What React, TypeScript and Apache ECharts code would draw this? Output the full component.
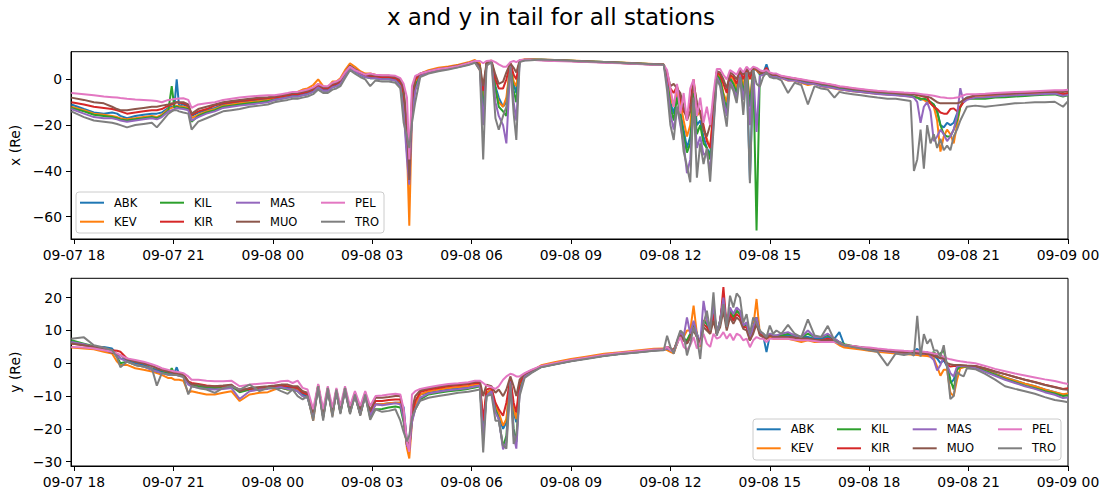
import React, { useEffect, useRef } from "react";
import * as echarts from "echarts";

const FONT = "DejaVu Sans";
const STATIONS = ["ABK", "KEV", "KIL", "KIR", "MAS", "MUO", "PEL", "TRO"];
const COLORS = ["#1f77b4", "#ff7f0e", "#2ca02c", "#d62728", "#9467bd", "#8c564b", "#e377c2", "#7f7f7f"];

const X_TICK_HOURS = [0, 3, 6, 9, 12, 15, 18, 21, 24, 27, 30];
const X_TICK_LABELS = ["09-07 18", "09-07 21", "09-08 00", "09-08 03", "09-08 06", "09-08 09", "09-08 12", "09-08 15", "09-08 18", "09-08 21", "09-09 00"];
const TOP_Y_TICKS = [-60, -40, -20, 0];
const BOTTOM_Y_TICKS = [-30, -20, -10, 0, 10, 20];

// hours after 09-07 18:00
const T = [
  -0.08, 0.3, 0.6, 0.9, 1.15, 1.3, 1.4, 1.6, 1.85, 2.1, 2.35, 2.5, 2.65, 2.85, 2.95, 3.03, 3.1, 3.17, 3.3, 3.45, 3.55, 3.75, 4.0, 4.25, 4.5, 4.75, 5.0, 5.3, 5.6, 5.85,
  6.05, 6.25, 6.45, 6.6, 6.75, 6.9, 7.05, 7.22, 7.37, 7.52, 7.66, 7.8, 7.92, 8.04, 8.18, 8.33, 8.48, 8.64, 8.79, 8.94, 9.1, 9.3, 9.5, 9.7,
  9.85, 9.95, 10.05, 10.12, 10.2, 10.3, 10.45,
  10.7, 11.0, 11.3, 11.6, 11.9, 12.1,
  12.25, 12.35, 12.45, 12.6, 12.72, 12.82, 12.95, 13.05, 13.17, 13.27, 13.35, 13.45, 13.6, 13.8,
  14.1, 14.5, 15.0, 15.5, 16.0, 16.5, 17.0, 17.5, 17.8,
  17.9, 18.0, 18.1, 18.2, 18.3, 18.4, 18.5, 18.6, 18.7, 18.8, 18.9, 19.0, 19.1, 19.2, 19.3, 19.4, 19.5, 19.6, 19.7, 19.8, 19.9, 20.0, 20.1, 20.2, 20.3, 20.4, 20.5, 20.6, 20.7, 20.8, 20.9, 21.0, 21.1, 21.2,
  21.35, 21.55, 21.75, 21.95, 22.15, 22.35, 22.55, 22.75, 22.95, 23.1, 23.25, 23.5, 23.75, 24.0, 24.25, 24.55, 24.8, 25.05, 25.25,
  25.35, 25.45, 25.55, 25.65, 25.75, 25.85, 25.95, 26.05, 26.15, 26.25, 26.35, 26.45, 26.55, 26.65, 26.75, 26.85, 26.95,
  27.2, 27.5, 27.8, 28.1, 28.4, 28.7, 29.0, 29.3, 29.6, 29.85, 30.0,
];

// ---------- x (Re) ----------
const X_ABK = [
  -11, -13, -14.5, -15, -14.5, -15, -16, -17, -16, -15.5, -15, -15, -14.5, -12.5, -12, -11.8, 0, -11.5, -11, -12, -16, -14.5, -13.5, -12.5, -11, -10.5, -10, -9.5, -9, -8.8,
  -8.5, -8, -7.5, -7, -7, -6.5, -6, -5, -3, -4.5, -4.5, -3, -2.5, -1.5, 2, 5, 3.5, 2, 1, 1, 0.5, 0.5, 0.5, 0,
  -2, -10, -30, -45, -12, -2, 2,
  3, 4, 4.8, 5.6, 6.6, 7.6,
  6, -10, 7, 8, -3, -8, -12, -10, 6.5, -2, -6, 8, 8.4, 8.5,
  8.5, 8.3, 8.1, 7.8, 7.5, 7.2, 6.9, 6.6, 6.4,
  1, -10, -15, -6, -14, -22, -30, -25, -5, -20, -18, -25, -30, -33, -16, 2, 0, -10, -12, 1, -2, -6, 3, -6, 4, -44, 4.5, 4, 2, 2.5, 6.5, 2, 1.5, 1.5,
  1, 0.2, 0, -1, -1.5, -1.5, -2.5, -3, -3.5, -4, -4.2, -4.8, -5.2, -5.6, -6, -6.3, -6.6, -6.9, -7.2,
  -7.5, -8, -9, -8.5, -9, -10, -11, -14, -20, -21, -19, -20, -19, -15, -12, -9, -8,
  -7.8, -7.5, -7.2, -7, -6.8, -6.6, -6.4, -6.2, -6, -7, -6.5,
];
const X_KEV = [
  -12, -13.5, -15, -15.5, -16, -16.5, -17, -17.5, -17, -16.5, -16, -16.5, -15.5, -13, -12.5, -12, -11.5, -11.8, -12, -12.5, -17, -15.5, -14, -13, -11.5, -11, -10.5, -10, -9.5, -9,
  -8, -7.5, -7, -6, -5.5, -4.5, -4, -2.5, 0, -3, -3.5, -1, -1, 0.5, 4, 7, 5.5, 3.5, 2.5, 2.5, 2, 1.5, 1.5, 1,
  -1, -8, -30, -64, -15, -1, 2.5,
  4, 5, 5.6, 6.4, 7.4, 8.4,
  7, -12, 7.5, 8.2, -5, -10, -12, -8, 7, -1, -3, 8.3, 8.6, 8.6,
  8.6, 8.4, 8.2, 7.9, 7.6, 7.3, 7.0, 6.7, 6.5,
  2, -8, -12, -5, -10, -18, -25, -20, -3, -16, -14, -22, -26, -30, -14, 3, 1, -6, -10, 2, 0, -4, 4, -3, 5, -10, 5, 4, 2.5, 2.5, 4, 2, 1, 1,
  0.5, -0.5, -0.5, -1.5, -2.5, -2, -3, -3.5, -4, -4.5, -4.7, -5.2, -5.6, -6, -6.3, -6.6, -6.9, -7.2, -7.5,
  -7.8, -8, -8.5, -9, -10, -10.5, -12, -18, -31.6, -25, -22, -24, -28, -20, -12, -9, -8.5,
  -7.5, -7.2, -7, -6.8, -6.6, -6.4, -6.2, -6, -5.8, -6.8, -6.2,
];
const X_KIL = [
  -12.5, -14, -15.5, -16, -16.5, -17, -17.5, -18, -17.5, -17, -16.5, -17, -16, -13.5, -3, -12.5, -12, -12.3, -12.5, -13, -18.5, -16, -14.5, -13.5, -12, -11.5, -11, -10.5, -10, -9.5,
  -9, -8.5, -8, -7.5, -7.5, -7, -6.5, -5.5, -3.5, -5, -5, -3.5, -3, -2, 1.5, 5, 3.5, 2, 1, 0.5, 0.5, 0, 0, -0.5,
  -2.5, -11, -32, -42, -14, -3, 1.5,
  3, 4, 4.8, 5.6, 6.6, 7.6,
  6, -14, 7, 8, -4, -12, -14, -16, 6.5, -5, -10, 8, 8.4, 8.5,
  8.5, 8.3, 8.1, 7.8, 7.5, 7.2, 6.9, 6.6, 6.4,
  1, -12, -18, -8, -16, -25, -32, -28, -6, -24, -20, -28, -30, -35, -18, 2, 0, -7, -14, 0, -2, -6, 3, -6, 4, -12, 4.5, -66, 2, 2.5, 4, 2, 1.5, 1.5,
  0.8, 0, -0.3, -1.2, -1.8, -1.8, -2.8, -3.2, -3.7, -4.2, -4.5, -5, -5.4, -5.8, -6.2, -6.5, -6.8, -7.1, -7.4,
  -7.7, -8, -8.5, -8.5, -9, -10, -11, -14, -20, -24, -25, -25, -22, -18, -12, -9.5, -8.5,
  -8.5, -8.5, -8, -7.8, -7.5, -7.3, -7, -6.8, -6.6, -7.5, -7,
];
const X_KIR = [
  -10, -11, -12, -12.5, -13, -13.5, -14, -15, -14.5, -14, -13.5, -13.5, -13, -11.5, -11, -10.5, -10, -10.2, -10.5, -11.5, -15.5, -14, -13, -11.5, -10.5, -10, -9.5, -9, -8.5, -8.2,
  -8, -7.5, -7, -6.5, -6.5, -6, -5.5, -4.5, -2.5, -4, -4, -2.5, -2, -1, 2.5, 5.5, 4, 2.5, 1.5, 1.5, 1, 1, 1, 0.5,
  -1, -6, -25, -42, -10, 0, 2,
  3.2, 4.2, 5, 5.8, 6.8, 7.8,
  4, -5, 6, 8, 0, -4, -4, 0, 7, 2, 0, 8, 8.5, 8.5,
  8.4, 8.2, 8.0, 7.7, 7.4, 7.1, 6.8, 6.5, 6.3,
  0, -4, -6, -3, -8, -14, -16, -10, 0, -12, -14, -20, -27, -30, -14, 3, 2, -2, -6, 2, 1, -2, 4, 0, 5, 0, 5, 4.5, 3, 3, 5, 2.5, 2, 2,
  1.3, 0.8, 0.3, -0.2, -0.7, -1.2, -1.7, -2.2, -2.7, -3.2, -3.5, -4, -4.5, -4.9, -5.3, -5.6, -5.9, -6.2, -6.4,
  -6.5, -7, -7.2, -7.5, -8, -10.5, -12, -13, -14.5, -15, -15, -13, -12.7, -14, -12, -10, -8.5,
  -7, -6.8, -6.5, -6.4, -6.2, -6, -5.8, -5.7, -5.6, -6.5, -6,
];
const X_MAS = [
  -13, -15, -16.5, -17, -17, -17.5, -18, -18.5, -18, -17.5, -17, -17.5, -16.5, -14, -13.5, -13, -12.5, -12.8, -13, -13.5, -18, -16.5, -15, -14, -12.5, -12, -11.5, -11, -10.5, -10,
  -9, -8.5, -8, -7.5, -7.5, -7, -6.5, -5.5, -3.5, -5, -5, -3.5, -3, -2, 1.5, 5, 3.5, 2, 1, 0.5, 0.5, 0, 0, -0.5,
  -3, -14, -35, -46, -18, -5, 1.5,
  2.8, 3.8, 4.6, 5.4, 6.4, 7.4,
  5, -20, 6.5, 7.8, -10, -16, -20, -28, 6, -10, -18, 7.8, 8.3, 8.4,
  8.4, 8.2, 8.0, 7.7, 7.4, 7.1, 6.8, 6.5, 6.3,
  -2, -15, -22, -12, -20, -28, -41, -35, -10, -30, -25, -33, -32, -40, -20, 1, -2, -9, -16, -1, -4, -8, 2, -9, 3, -20, 4, -23, 1.5, 2, 4, 1.5, 1, 1,
  0.6, -0.5, -0.5, -1.3, -2, -2, -3, -3.4, -3.9, -4.4, -4.7, -5.2, -5.6, -6, -6.4, -6.7, -7, -7.3, -7.6,
  -8, -10, -19, -12, -10, -14, -27, -25, -22, -24, -27, -25, -22, -16, -3.9, -10, -9,
  -8, -7.8, -7.5, -7.2, -7, -6.8, -6.6, -6.4, -6.2, -7.2, -6.8,
];
const X_MUO = [
  -8, -9, -10, -10.5, -12, -13, -13.5, -13.5, -13, -12.5, -12, -12, -11.5, -11, -10.5, -10.3, -10, -10, -10, -11, -15, -13, -12, -11, -10, -9.5, -9, -8.5, -8, -7.8,
  -7.5, -7, -6.5, -6, -6, -5.5, -5, -4, -2, -3.5, -3.5, -2, -1.5, -0.5, 3, 6, 4.5, 3, 2, 2, 1.5, 1.5, 1.5, 1,
  0, -4, -20, -44, -8, 1, 2.5,
  3.5, 4.5, 5.2, 6, 7, 8,
  6, -3, 7, 8, 2, -2, -1, 3, 7, 5, 3, 8.2, 8.5, 8.5,
  8.4, 8.2, 8.0, 7.7, 7.4, 7.1, 6.8, 6.5, 6.3,
  3, -3, -2, -4, -6, -12, -18, -14, -2, -10, -15, -22, -25, -20, -10, 3.5, 3, 0, -4, 3, 2, 0, 4, 2, 5, 2, 5, 4.5, 3, 3, 4, 2.5, 2, 2,
  1.2, 0.7, 0.2, -0.3, -0.8, -1.3, -1.8, -2.3, -2.8, -3.3, -3.6, -4.1, -4.6, -5, -5.4, -5.7, -6, -6.3, -6.5,
  -6.5, -6.8, -7, -7.3, -7.6, -8, -9, -10, -10.5, -10.5, -10.5, -10.5, -10.5, -10.5, -10, -9, -8,
  -7, -6.8, -6.5, -6.3, -6.1, -5.9, -5.7, -5.5, -5.3, -5.5, -5.2,
];
const X_PEL = [
  -6, -6.5, -7, -7.5, -7.8, -8, -8.2, -8.5, -8.8, -9, -9.3, -9.5, -10, -9, -8.8, -8.6, -8.5, -8.4, -8.3, -9, -12.5, -11, -10.5, -10, -9, -8.5, -8, -7.5, -7.2, -7,
  -7, -6.5, -6, -5.5, -5.5, -5, -4.5, -3.5, -2, -3, -3, -1.5, -1, 0, 3, 5.5, 4, 3, 2, 2.5, 2, 1.8, 1.8, 1.5,
  0.5, -2, -8, -35, -3, 1.5, 2.5,
  3.5, 4.5, 5, 5.8, 7, 8,
  8, 7, 8, 8.2, 7.5, 6.5, 5.5, 5.5, 7.5, 8, 7.5, 8.4, 8.5, 8.5,
  8.2, 8.0, 7.8, 7.5, 7.2, 7.0, 6.7, 6.4, 6.2,
  4, -4, -12, -2, -15, -6, -18, -4, 0, -16, -8, -19, -12, -20, -6, 4.5, 4.5, 2, 0, 4, 3, 2, 5, 3, 5.5, 4, 5.5, 5, 4, 3.5, 4, 3, 2.5, 2.5,
  1.5, 1, 0.5, 0, -0.5, -1, -1.5, -2, -2.5, -3, -3.3, -3.8, -4.2, -4.7, -5, -5.3, -5.5, -5.8, -6,
  -6, -6.2, -6.4, -6.6, -6.8, -7, -7.2, -7.5, -7.8, -8, -8.2, -8.3, -8.2, -8, -7.5, -7, -6.5,
  -6.5, -6.3, -6, -5.8, -5.6, -5.4, -5.2, -5, -4.8, -4.8, -4.6,
];
const X_TRO = [
  -14, -16.5, -18, -18.5, -19, -19.5, -20, -21, -20, -19.5, -19, -21, -18.5, -15, -14, -13.5, -13.5, -14, -14.5, -15, -22, -18.5, -17, -15.5, -14, -13.5, -13, -12, -11.5, -11,
  -10, -9.5, -9, -8.5, -8.5, -8, -7.5, -6.5, -4.5, -6, -6, -4.5, -4, -3, 0.5, 4, 2.5, 1, 0, -3, -0.5, -1, -1, -1.5,
  -4, -19, -25, -30, -19, -10, 1,
  2.5, 3.5, 4.3, 5.2, 6.2, 7.2,
  4, -35, 6, 7.5, -17, -22, -16, -12, 5.5, -15, -26.5, 7.5, 8.2, 8.3,
  8.6, 8.4, 8.1, 7.8, 7.5, 7.2, 6.9, 6.6, 6.4,
  -5, -20, -26.5, -12, -18, -31.6, -38, -45, -8, -43, -28, -37, -30, -44.7, -22, 0, -3, -12, -20.7, -2, -5, -10.4, 1, -15.6, 3, -45.4, 4, -2, -3.2, 1, 3, 1, 0.5, 0.5,
  -0.5, -6, -1.5, -2.5, -11, -3, -4, -4.5, -8, -5.5, -6, -6.5, -7, -7.5, -8, -8.5, -8.5, -9, -9.5,
  -40, -35, -22, -39, -20, -28, -24, -30, -26, -31, -29, -31, -25, -22, -18, -15, -12,
  -11.5, -12, -11.5, -11, -10.5, -10.3, -10, -10, -9.8, -12, -9.5,
];

// ---------- y (Re) ----------
const Y_ABK = [
  6.5, 5.5, 5, 5, 4.5, 2.5, 1.5, 1, 0, -0.5, -1.5, -2, -2.5, -3, -3, -3, -1.2, -3.2, -3.8, -6, -6.5, -7, -7.5, -7.5, -7.3, -7, -8.5, -8, -7.8, -7.5,
  -7.2, -7, -7.5, -7.5, -8, -9.5, -10, -16, -7, -16, -8, -15, -8.5, -14.5, -8, -14.5, -9.5, -15, -9.5, -15.5, -12.5, -12.5, -12.2, -12,
  -12, -13.4, -24, -26, -17, -13, -9.5,
  -9, -8.5, -8, -7.6, -7.2, -6.8,
  -6.5, -20, -9, -8, -13, -16, -20, -18, -5, -15, -18, -7, -3.8, -2.6,
  -1, -0.2, 0.8, 1.6, 2.4, 3.0, 3.5, 4.0, 4.2,
  4.5, 4, 3.5, 6, 9, 7.5, 6, 9, 12, 8.5, 6, 13, 12, 9.5, 17, 9, 13, 20, 11, 16, 14, 16, 15, 11, 12, 7, 11, 14, 9, 8.5, 3.4, 8.5, 8, 8,
  8.5, 8.5, 8, 8, 8, 7.5, 7.5, 8, 7.5, 9.5, 5.5, 5, 4.6, 4.3, 4, 3.6, 3.4, 3.2, 3.1,
  3.5, 4.4, 3, 2.9, 2.8, 2.6, 2.2, 1.5, 0, 1, -1, -6, -5, -1.5, -1, -1, -1,
  -1, -2, -3.2, -4.3, -5.2, -6.2, -7, -8, -8.8, -9.6, -9.3,
];
const Y_KEV = [
  4.8, 4.5, 4.3, 3.5, 3, 0.5, -0.5, -0.5, -1.5, -2, -2.5, -3, -3.5, -4.5, -4.5, -5, -5, -5, -5.3, -9, -8.5, -9, -9.5, -9.5, -9, -8.5, -11.5, -9.5, -9, -8.8,
  -8, -7.5, -8, -7.8, -8.3, -8.5, -9.5, -17.5, -6.5, -16.5, -7.5, -16, -8, -15, -7.5, -15, -9, -15.5, -9, -16, -12.5, -12.5, -12.2, -12,
  -12, -17, -26, -29, -18, -13, -9.5,
  -8.5, -8, -7.5, -7.2, -6.9, -6.5,
  -6.3, -19, -9, -8, -13, -15, -19, -17, -5, -14, -17, -6.5, -3.6, -2.5,
  -0.6, 0.3, 1.3, 2.1, 2.9, 3.4, 3.9, 4.4, 4.5,
  4, 3.5, 3, 6, 9, 8, 10, 10, 17.6, 9, 5, 13, 13, 10, 17, 9, 13, 19, 11, 16, 14, 16, 15, 11, 12, 7, 11, 19.6, 9, 8.5, 7.5, 8, 7.5, 7.5,
  7.5, 7.5, 7, 6.5, 7, 6.5, 6.5, 7, 6.5, 5.5, 4.8, 4.5, 4.2, 3.8, 3.5, 3.2, 3, 2.8, 2.7,
  2.6, 2.5, 2.4, 2.3, 2.2, 2, 1.5, -1, -3.8, -2, -2, -9, -10, -5, -1.5, -1.2, -1,
  -1.2, -2.2, -3.3, -4.3, -5.3, -6.2, -7, -8, -8.8, -9.4, -9.2,
];
const Y_KIL = [
  7, 6, 5.2, 4.5, 4, 2, 0, 0.5, -0.5, -1, -1.8, -2.5, -2.8, -3.2, -1.5, -3.3, -3.3, -3.5, -3.8, -6, -6.5, -7, -7.3, -7.5, -7.3, -7, -8.8, -8, -7.8, -7.5,
  -7.5, -7.5, -8, -8, -8.5, -10, -10.5, -16.5, -7.5, -16.5, -8.5, -15.5, -9, -15, -8.5, -15, -10, -15.5, -10, -16.5, -14, -13.9, -13.5, -13.2,
  -13.5, -18, -25, -26, -17, -14, -11,
  -9.5, -9, -8.5, -8.2, -7.8, -7.4,
  -7, -22, -10, -8.5, -14, -17, -25.5, -22, -5.5, -20, -24, -8, -4, -2.8,
  -1.1, -0.3, 0.7, 1.5, 2.3, 2.9, 3.4, 3.9, 4.1,
  4.5, 4, 3.5, 6, 9, 7.5, 7, 9, 12, 9, 6, 13, 12, 9.5, 16, 9, 13, 19, 11, 16, 14, 16, 15, 11, 12, 7, 11, 14, 9.5, 9, 8, 9, 8.5, 8.5,
  8.5, 9, 8.5, 8, 9, 8, 8, 8.5, 7.5, 6.5, 5.8, 5.3, 4.9, 4.5, 4.2, 3.8, 3.6, 3.4, 3.3,
  3.2, 3.1, 3, 3, 3, 3, 3.4, 2.5, 3, 4, -0.5, -5, -8, -2, -1, -1, -1,
  -1.2, -2.3, -3.5, -4.8, -5.8, -6.8, -7.6, -8.5, -9.2, -10, -9.8,
];
const Y_KIR = [
  6, 5.5, 5, 4.5, 4, 3.8, 3.5, 1.5, 0.5, 0, -0.8, -1.5, -2, -2.5, -2.7, -2.9, -3, -3.2, -3.3, -5.5, -6, -6.3, -6.8, -7, -7, -6.8, -8, -7.8, -7.5, -7.3,
  -7, -6.8, -7, -7.2, -7.5, -9, -9.5, -15.5, -7, -15.5, -8, -15, -8.5, -14.5, -8, -14.5, -9.5, -15.5, -9.5, -15, -11.5, -11.5, -11.2, -11,
  -11, -16, -25, -26, -16, -11.5, -8.8,
  -8, -7.5, -7, -6.7, -6.4, -6,
  -6, -17.5, -8, -7.5, -12, -14, -16, -12, -4.5, -12, -15, -6, -3.5, -2.4,
  -1, -0.2, 0.8, 1.6, 2.4, 3.0, 3.5, 4.0, 4.2,
  5, 4.5, 4, 6.5, 9, 7, 6, 8, 11, 8, 6, 12, 11, 9, 15, 9, 12, 23.2, 11, 15, 13, 15, 14, 11, 11, 7.5, 10, 13, 9, 8, 7.5, 8.5, 8, 8,
  8, 8, 7.8, 7.5, 7.5, 7.2, 7, 7.5, 7, 6, 5.5, 5.2, 4.8, 4.5, 4.2, 3.8, 3.6, 3.4, 3.3,
  3.2, 3.1, 3, 2.9, 2.8, 2.6, 2.3, 2, 1.5, 1.5, -0.5, -1, -0.8, -0.8, -0.8, -0.8, -0.8,
  -0.8, -1.6, -2.5, -3.3, -4.2, -5, -5.7, -6.5, -7.2, -7.8, -7.6,
];
const Y_MAS = [
  6.5, 5.8, 5, 4.5, 3.8, 2.2, 1.5, 0.5, -0.5, -1, -2, -2.5, -3, -3.5, -3.5, -3.6, -3.6, -3.8, -4, -6.5, -7, -7.5, -7.8, -8, -7.8, -7.5, -10.9, -8.5, -8, -7.8,
  -7.5, -7.3, -7.8, -8, -8.5, -10, -10.5, -16.5, -7.3, -16.5, -8.3, -15.5, -8.8, -15, -8.3, -15, -9.8, -15.5, -9.8, -16, -12.5, -12.8, -12.5, -12.2,
  -12.5, -17, -25, -26.5, -18, -14, -10.5,
  -9.2, -8.7, -8.2, -7.9, -7.5, -7.1,
  -6.8, -23, -10, -8.5, -15, -17, -26.2, -24, -5.5, -22, -26, -9, -4, -2.8,
  -1.1, -0.3, 0.7, 1.5, 2.3, 2.9, 3.4, 3.9, 4.1,
  4.5, 4, 3.5, 6.5, 9.5, 8, 14, 9, 13, 9, 6, 19, 13, 10, 18, 9, 13, 20, 11, 17, 15, 17, 16, 11.5, 12.5, 7.5, 11, 14, 9.5, 9, 8, 9, 8.5, 8.5,
  9, 9.5, 8.5, 8, 10, 8, 8, 9, 7.5, 6.5, 5.5, 5, 4.6, 4.3, 4, 3.6, 3.4, 3.2, 3.2,
  3, 3, 2.9, 2.8, 3.5, 2, 1, -2.2, -0.5, 2, -0.5, -3, -4, -1, -0.8, -0.8, -0.8,
  -1.4, -2.6, -3.8, -5, -6, -7, -7.8, -8.8, -9.6, -10.6, -10.4,
];
const Y_MUO = [
  6, 5.5, 5, 4.2, 3.2, 2.8, 2.5, 1.2, 0.5, 0, -0.8, -1.5, -2, -2.5, -2.7, -2.9, -3, -3.2, -3.5, -5.5, -6.5, -6.5, -7, -7, -6.8, -6.5, -8.5, -7.5, -7.2, -7,
  -6.8, -6.5, -6.5, -7, -7, -8.5, -9, -15, -6.8, -15, -7.5, -14.5, -8, -14, -7.5, -14, -9, -14, -9, -14.5, -10.5, -10.5, -10.3, -10,
  -10, -15, -24, -25, -14, -10, -8.3,
  -7.6, -7.1, -6.7, -6.4, -6.1, -5.7,
  -5.5, -10, -6.5, -7, -9, -8, -10, -8, -4, -7, -10, -5, -3.2, -2.2,
  -0.9, -0.1, 0.9, 1.7, 2.5, 3.1, 3.6, 4.1, 4.3,
  5, 4.5, 4, 6.5, 8.5, 7, 6, 8, 10, 8, 6, 11, 10, 9, 13, 9, 11, 16, 10, 14, 12, 14, 13, 10.5, 10, 7, 9, 12, 8.5, 8, 7.5, 8.5, 8, 8,
  8, 8, 7.8, 7.5, 7.5, 7.2, 7, 7, 7, 6, 5.5, 5.2, 4.8, 4.5, 4.2, 3.8, 3.6, 3.4, 3.3,
  3.2, 3.1, 3, 3, 2.9, 2.7, 2.5, 2, 1.5, 1.5, 0, -0.3, -0.5, -0.5, -0.5, -0.6, -0.7,
  -0.8, -1.6, -2.5, -3.3, -4.2, -5, -5.8, -6.6, -7.3, -7.9, -8.1,
];
const Y_PEL = [
  5, 4.8, 4.5, 4, 3.5, 3, 2.5, 1.5, 1, 0.5, -0.3, -0.8, -1.5, -2, -2.3, -2.5, -2.6, -2.7, -3, -4, -5, -5, -5.3, -5.5, -5.5, -5.3, -7, -6.5, -6.2, -6,
  -6, -5.5, -5.3, -6, -5.3, -7.5, -8, -14, -6.3, -14, -7, -13.5, -7.5, -13, -7, -13, -8.5, -13, -8.5, -13, -10, -9.8, -9.5, -9.3,
  -9.5, -14, -24, -27, -9.5, -8.5, -7.8,
  -7.3, -6.8, -6.3, -6.1, -5.8, -5.3,
  -5.3, -6, -6.8, -7.3, -7.8, -7, -5, -4, -3.2, -3.5, -4, -4, -3, -2,
  -0.8, 0, 1.0, 1.8, 2.6, 3.2, 3.7, 4.2, 4.3,
  5, 4, 3.5, 6, 8, 5, 4, 5.5, 8, 4.5, 6, 9, 6, 5, 9, 7.5, 8, 9.5, 7.5, 9, 7, 9, 8.5, 7, 7.5, 4.9, 7, 8, 7.5, 7.5, 6.5, 7.5, 7.5, 7.5,
  7.5, 7.5, 7.2, 7, 7, 6.8, 6.5, 6.5, 6.5, 6, 5.5, 5.3, 5, 4.8, 4.5, 4.2, 4, 3.8, 3.7,
  3.8, 3.7, 3.6, 3.5, 3.4, 3.2, 3, 2.8, 2.5, 2, 1.5, 1.2, 1, 0.8, 0.6, 0.5, 0.3,
  0, -0.8, -1.7, -2.4, -3.1, -3.7, -4.3, -4.9, -5.4, -6, -6.3,
];
const Y_TRO = [
  7.5, 7.9, 5.5, 4.8, 4, 1.8, -1.2, 0.5, -0.5, -1, -1.5, -6.8, -3, -3.5, -3.5, -3.6, -3.6, -3.8, -4.2, -9.5, -7, -7.5, -8, -9, -7.5, -7, -8, -6.5, -8.5, -7.5,
  -7.5, -8.5, -9.3, -8, -10, -11, -10, -17.5, -7, -17.5, -7.5, -16.5, -8, -15.5, -7.5, -15.5, -9.5, -16, -9.5, -17.2, -14, -14.8, -14.5, -14,
  -17.5, -21, -23.8, -22, -16.5, -14, -11.4,
  -10.5, -10, -9.5, -9, -8.7, -8.3,
  -8, -27.2, -10, -9.5, -17.5, -17.5, -25, -26, -6, -24.6, -22, -10, -4.5, -3,
  -1.2, -0.4, 0.6, 1.4, 2.2, 2.8, 3.3, 3.8, 4.0,
  8.4, 5, 2.9, 7, 10, 9, 2.4, 6, 11, 8, 1.3, 12, 16, 10, 21.6, 8.4, 12, 18, 11, 20.6, 17, 21.3, 20, 12.4, 15, 9, 14, 12, 10, 9, 8, 11.5, 9, 10,
  9, 11.7, 9, 8, 13.4, 8.5, 8, 11.4, 7, 6, 5.5, 5, 4.5, 4, 3.5, -0.7, 3, 2.5, 3,
  2.3, 14.5, 2, 8.9, 6, 7.4, 4, 3.9, 2, 5.5, -1.2, -10.9, -10, -2.7, -3.5, -4, -1.5,
  -1.8, -3.2, -5, -7, -7.8, -8.5, -9.3, -10.3, -11.2, -11.6, -11.9,
];

const X_DATA = [X_ABK, X_KEV, X_KIL, X_KIR, X_MAS, X_MUO, X_PEL, X_TRO];
const Y_DATA = [Y_ABK, Y_KEV, Y_KIL, Y_KIR, Y_MAS, Y_MUO, Y_PEL, Y_TRO];

const LEGEND_COLUMNS = [["ABK", "KEV"], ["KIL", "KIR"], ["MAS", "MUO"], ["PEL", "TRO"]];

function fmtNum(v: number): string {
  return v < 0 ? "\u2212" + Math.abs(v) : String(v);
}

function buildOption() {
  const grids = [
    { left: 71, top: 51.7, width: 997, height: 187.3 },
    { left: 71, top: 278.3, width: 997, height: 187.7 },
  ].map((g) => ({
    ...g,
    show: true,
    borderColor: "#000",
    borderWidth: 1,
    backgroundColor: "transparent",
    containLabel: false,
    outerBoundsMode: "none",
  }));

  const xAxes = [0, 1].map((gi) => ({
    type: "value",
    gridIndex: gi,
    min: -0.09,
    max: 30,
    axisLine: { show: true, onZero: false, lineStyle: { color: "#000", width: 1 } },
    axisTick: { show: true, customValues: X_TICK_HOURS, length: 5, lineStyle: { color: "#000", width: 1 } },
    axisLabel: {
      customValues: X_TICK_HOURS,
      formatter: (v: number) => X_TICK_LABELS[Math.round(v / 3)] ?? "",
      color: "#000",
      fontFamily: FONT,
      fontSize: 13.9,
      margin: 9,
    },
    splitLine: { show: false },
  }));

  const yAxes = [
    { gi: 0, min: -69.75, max: 12.05, ticks: TOP_Y_TICKS, name: "x (Re)" },
    { gi: 1, min: -31.3, max: 25.9, ticks: BOTTOM_Y_TICKS, name: "y (Re)" },
  ].map((a) => ({
    type: "value",
    gridIndex: a.gi,
    min: a.min,
    max: a.max,
    name: a.name,
    nameLocation: "middle",
    nameGap: 42,
    nameTextStyle: { color: "#000", fontFamily: FONT, fontSize: 13.9 },
    axisLine: { show: true, onZero: false, lineStyle: { color: "#000", width: 1 } },
    axisTick: { show: true, customValues: a.ticks, length: 5, lineStyle: { color: "#000", width: 1 } },
    axisLabel: {
      customValues: a.ticks,
      formatter: fmtNum,
      color: "#000",
      fontFamily: FONT,
      fontSize: 13.9,
      margin: 9,
    },
    splitLine: { show: false },
  }));

  const series: any[] = [];
  [X_DATA, Y_DATA].forEach((set, gi) => {
    set.forEach((vals, si) => {
      series.push({
        type: "line",
        name: STATIONS[si],
        xAxisIndex: gi,
        yAxisIndex: gi,
        color: COLORS[si],
        symbol: "none",
        showSymbol: false,
        lineStyle: { color: COLORS[si], width: 2 },
        z: 2,
        data: T.map((t, i) => [t, vals[i]]),
      });
    });
  });

  const legendBlocks = [
    { lefts: [80, 160, 236, 321], top: 195.7 },
    { lefts: [756.7, 837, 912.7, 998], top: 422.3 },
  ];
  const legends: any[] = [];
  legendBlocks.forEach((b) => {
    LEGEND_COLUMNS.forEach((col, ci) => {
      legends.push({
        orient: "vertical",
        left: b.lefts[ci],
        top: b.top,
        padding: 0,
        itemGap: 5,
        itemWidth: 24,
        itemHeight: 2,
        icon: "rect",
        selectedMode: false,
        data: col.map((n) => ({ name: n })),
        textStyle: { color: "#000", fontFamily: FONT, fontSize: 11.5, lineHeight: 14, padding: [0, 0, 0, 5] },
      });
    });
  });

  const graphic = [
    { type: "rect", z: 3, shape: { x: 76, y: 192, width: 308, height: 41, r: 3 }, style: { fill: "rgba(255,255,255,0.8)", stroke: "#cccccc", lineWidth: 1 } },
    { type: "rect", z: 3, shape: { x: 753, y: 419, width: 308, height: 41, r: 3 }, style: { fill: "rgba(255,255,255,0.8)", stroke: "#cccccc", lineWidth: 1 } },
  ];

  return {
    animation: false,
    backgroundColor: "#fff",
    title: {
      text: "x and y in tail for all stations",
      left: "center",
      top: 5,
      padding: 0,
      textStyle: { color: "#000", fontFamily: FONT, fontSize: 23, fontWeight: "normal" },
    },
    grid: grids,
    xAxis: xAxes,
    yAxis: yAxes,
    legend: legends,
    graphic,
    series,
  };
}

export default function App() {
  const ref = useRef<HTMLDivElement>(null);
  useEffect(() => {
    if (!ref.current) return;
    const chart = echarts.init(ref.current, null, { renderer: "svg" });
    chart.setOption(buildOption() as any);
    return () => chart.dispose();
  }, []);
  return <div ref={ref} style={{ position: "absolute", left: 0, top: 0, width: 1102, height: 495 }} />;
}
